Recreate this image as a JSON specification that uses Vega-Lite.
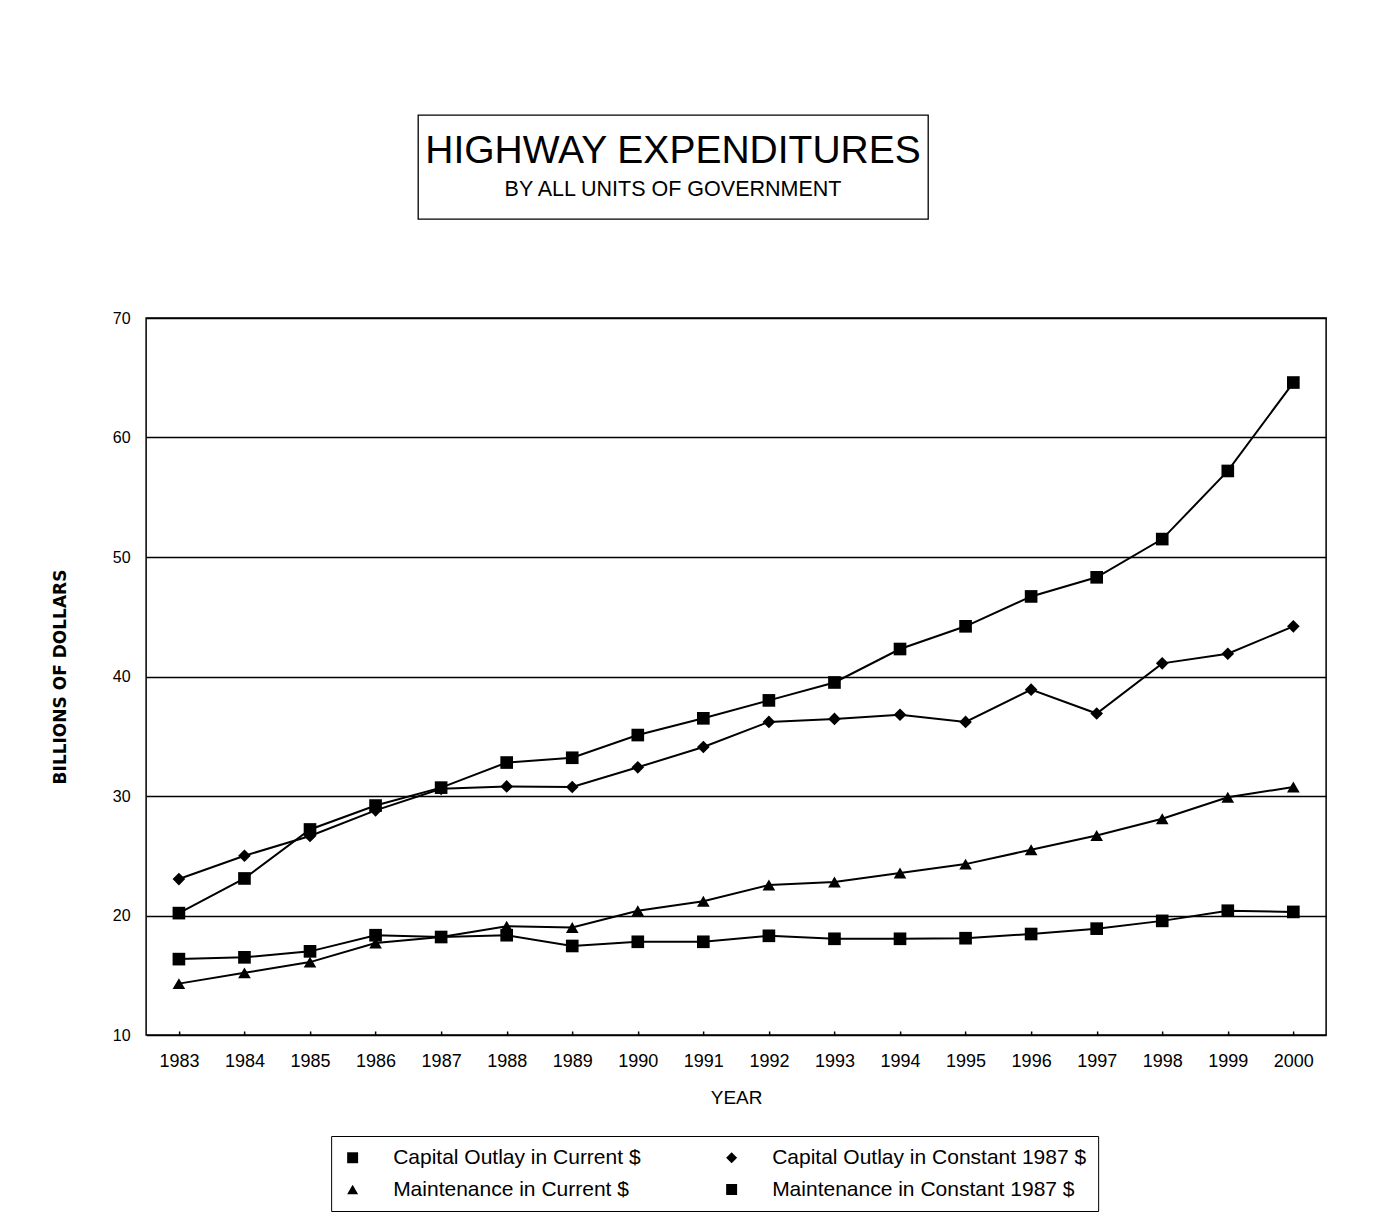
{
  "$schema": "https://vega.github.io/schema/vega-lite/v6.json",
  "background": "white",
  "padding": {"top": 114, "left": 50, "right": 10, "bottom": 10},
  "config": {"font": "Liberation Sans", "view": {"stroke": null}},
  "spacing": 89,
  "center": true,
  "resolve": {"legend": {"shape": "independent"}},
  "vconcat": [
    {
      "spacing": 0,
      "hconcat": [
        {
          "width": 510,
          "height": 104,
          "view": {"stroke": "black", "strokeWidth": 1.3},
          "data": {"values": [{"line": "HIGHWAY EXPENDITURES", "sub": "BY ALL UNITS OF GOVERNMENT"}]},
          "layer": [
            {"mark": {"type": "text", "fontSize": 39, "dy": -16, "baseline": "middle", "color": "black"}, "encoding": {"text": {"field": "line"}}},
            {"mark": {"type": "text", "fontSize": 21.5, "dy": 23, "baseline": "middle", "color": "black"}, "encoding": {"text": {"field": "sub"}}}
          ]
        },
        {
          "width": 126,
          "height": 104,
          "data": {"values": [{"line": ""}]},
          "mark": {"type": "text", "color": "white"},
          "encoding": {"text": {"field": "line"}}
        }
      ]
    },
    {
      "width": 1180,
      "height": 717,
      "view": {"stroke": "black", "strokeWidth": 1.5},
      "data": {"values": [
        {"year": 1983, "series": "Capital Outlay in Current $", "value": 20.2},
        {"year": 1984, "series": "Capital Outlay in Current $", "value": 23.1},
        {"year": 1985, "series": "Capital Outlay in Current $", "value": 27.2},
        {"year": 1986, "series": "Capital Outlay in Current $", "value": 29.2},
        {"year": 1987, "series": "Capital Outlay in Current $", "value": 30.7},
        {"year": 1988, "series": "Capital Outlay in Current $", "value": 32.8},
        {"year": 1989, "series": "Capital Outlay in Current $", "value": 33.2},
        {"year": 1990, "series": "Capital Outlay in Current $", "value": 35.1},
        {"year": 1991, "series": "Capital Outlay in Current $", "value": 36.5},
        {"year": 1992, "series": "Capital Outlay in Current $", "value": 38.0},
        {"year": 1993, "series": "Capital Outlay in Current $", "value": 39.5},
        {"year": 1994, "series": "Capital Outlay in Current $", "value": 42.3},
        {"year": 1995, "series": "Capital Outlay in Current $", "value": 44.2},
        {"year": 1996, "series": "Capital Outlay in Current $", "value": 46.7},
        {"year": 1997, "series": "Capital Outlay in Current $", "value": 48.3},
        {"year": 1998, "series": "Capital Outlay in Current $", "value": 51.5},
        {"year": 1999, "series": "Capital Outlay in Current $", "value": 57.2},
        {"year": 2000, "series": "Capital Outlay in Current $", "value": 64.6},
        {"year": 1983, "series": "Capital Outlay in Constant 1987 $", "value": 23.05},
        {"year": 1984, "series": "Capital Outlay in Constant 1987 $", "value": 25.0},
        {"year": 1985, "series": "Capital Outlay in Constant 1987 $", "value": 26.65},
        {"year": 1986, "series": "Capital Outlay in Constant 1987 $", "value": 28.8},
        {"year": 1987, "series": "Capital Outlay in Constant 1987 $", "value": 30.6},
        {"year": 1988, "series": "Capital Outlay in Constant 1987 $", "value": 30.8},
        {"year": 1989, "series": "Capital Outlay in Constant 1987 $", "value": 30.75},
        {"year": 1990, "series": "Capital Outlay in Constant 1987 $", "value": 32.4},
        {"year": 1991, "series": "Capital Outlay in Constant 1987 $", "value": 34.1},
        {"year": 1992, "series": "Capital Outlay in Constant 1987 $", "value": 36.2},
        {"year": 1993, "series": "Capital Outlay in Constant 1987 $", "value": 36.45},
        {"year": 1994, "series": "Capital Outlay in Constant 1987 $", "value": 36.8},
        {"year": 1995, "series": "Capital Outlay in Constant 1987 $", "value": 36.2},
        {"year": 1996, "series": "Capital Outlay in Constant 1987 $", "value": 38.9},
        {"year": 1997, "series": "Capital Outlay in Constant 1987 $", "value": 36.9},
        {"year": 1998, "series": "Capital Outlay in Constant 1987 $", "value": 41.1},
        {"year": 1999, "series": "Capital Outlay in Constant 1987 $", "value": 41.9},
        {"year": 2000, "series": "Capital Outlay in Constant 1987 $", "value": 44.2},
        {"year": 1983, "series": "Maintenance in Current $", "value": 14.3},
        {"year": 1984, "series": "Maintenance in Current $", "value": 15.2},
        {"year": 1985, "series": "Maintenance in Current $", "value": 16.1},
        {"year": 1986, "series": "Maintenance in Current $", "value": 17.7},
        {"year": 1987, "series": "Maintenance in Current $", "value": 18.2},
        {"year": 1988, "series": "Maintenance in Current $", "value": 19.1},
        {"year": 1989, "series": "Maintenance in Current $", "value": 19.0},
        {"year": 1990, "series": "Maintenance in Current $", "value": 20.4},
        {"year": 1991, "series": "Maintenance in Current $", "value": 21.2},
        {"year": 1992, "series": "Maintenance in Current $", "value": 22.55},
        {"year": 1993, "series": "Maintenance in Current $", "value": 22.8},
        {"year": 1994, "series": "Maintenance in Current $", "value": 23.55},
        {"year": 1995, "series": "Maintenance in Current $", "value": 24.3},
        {"year": 1996, "series": "Maintenance in Current $", "value": 25.5},
        {"year": 1997, "series": "Maintenance in Current $", "value": 26.7},
        {"year": 1998, "series": "Maintenance in Current $", "value": 28.1},
        {"year": 1999, "series": "Maintenance in Current $", "value": 29.9},
        {"year": 2000, "series": "Maintenance in Current $", "value": 30.75},
        {"year": 1983, "series": "Maintenance in Constant 1987 $", "value": 16.35},
        {"year": 1984, "series": "Maintenance in Constant 1987 $", "value": 16.5},
        {"year": 1985, "series": "Maintenance in Constant 1987 $", "value": 17.0},
        {"year": 1986, "series": "Maintenance in Constant 1987 $", "value": 18.35},
        {"year": 1987, "series": "Maintenance in Constant 1987 $", "value": 18.2},
        {"year": 1988, "series": "Maintenance in Constant 1987 $", "value": 18.35},
        {"year": 1989, "series": "Maintenance in Constant 1987 $", "value": 17.45},
        {"year": 1990, "series": "Maintenance in Constant 1987 $", "value": 17.8},
        {"year": 1991, "series": "Maintenance in Constant 1987 $", "value": 17.8},
        {"year": 1992, "series": "Maintenance in Constant 1987 $", "value": 18.3},
        {"year": 1993, "series": "Maintenance in Constant 1987 $", "value": 18.05},
        {"year": 1994, "series": "Maintenance in Constant 1987 $", "value": 18.05},
        {"year": 1995, "series": "Maintenance in Constant 1987 $", "value": 18.1},
        {"year": 1996, "series": "Maintenance in Constant 1987 $", "value": 18.45},
        {"year": 1997, "series": "Maintenance in Constant 1987 $", "value": 18.9},
        {"year": 1998, "series": "Maintenance in Constant 1987 $", "value": 19.55},
        {"year": 1999, "series": "Maintenance in Constant 1987 $", "value": 20.4},
        {"year": 2000, "series": "Maintenance in Constant 1987 $", "value": 20.3}
      ]},
      "encoding": {
        "x": {
          "field": "year", "type": "quantitative",
          "scale": {"domain": [1982.5, 2000.5], "nice": false, "zero": false},
          "axis": {
            "title": "YEAR", "titleFontSize": 19, "titleFontWeight": "normal", "titleColor": "black", "titlePadding": 18,
            "values": [1983, 1984, 1985, 1986, 1987, 1988, 1989, 1990, 1991, 1992, 1993, 1994, 1995, 1996, 1997, 1998, 1999, 2000],
            "format": "d",
            "labelOverlap": false, "labelFlush": false,
            "labelFontSize": 18, "labelColor": "black", "labelPadding": 21,
            "tickSize": -4, "tickColor": "black", "tickWidth": 1.5,
            "domain": false, "grid": false
          }
        },
        "y": {
          "field": "value", "type": "quantitative",
          "scale": {"domain": [10, 70], "nice": false, "zero": false},
          "axis": {
            "title": "BILLIONS OF DOLLARS", "titleFont": "DejaVu Sans", "titleFontSize": 17, "titleFontWeight": "bold", "titleColor": "black", "titlePadding": 43,
            "values": [10, 20, 30, 40, 50, 60, 70],
            "labelFontSize": 16, "labelColor": "black", "labelPadding": 16,
            "ticks": false, "domain": false,
            "grid": true, "gridColor": "black", "gridWidth": 1.5, "gridOpacity": 1
          }
        }
      },
      "layer": [
        {
          "mark": {"type": "line", "color": "black", "strokeWidth": 2},
          "encoding": {"detail": {"field": "series"}}
        },
        {
          "mark": {"type": "point", "filled": true, "color": "black", "opacity": 1, "size": 160},
          "encoding": {
            "shape": {
              "field": "series", "type": "nominal",
              "scale": {
                "domain": ["Capital Outlay in Current $", "Capital Outlay in Constant 1987 $", "Maintenance in Current $", "Maintenance in Constant 1987 $"],
                "range": ["square", "diamond", "triangle-up", "square"]
              },
              "legend": {
                "title": null, "orient": "none", "legendX": 185, "legendY": 818,
                "columns": 2, "direction": "horizontal", "columnPadding": 80, "rowPadding": 10,
                "padding": 11, "strokeColor": "black", "fillColor": "white",
                "labelFontSize": 21, "labelColor": "black", "labelOffset": 30, "labelLimit": 500,
                "symbolSize": 120, "symbolStrokeWidth": 1.5, "symbolStrokeColor": "black", "symbolFillColor": "black", "symbolOpacity": 1,
                "encode": {
                  "legend": {"update": {"strokeWidth": {"value": 2}}}
                }
              }
            }
          }
        }
      ]
    }
  ]
}
